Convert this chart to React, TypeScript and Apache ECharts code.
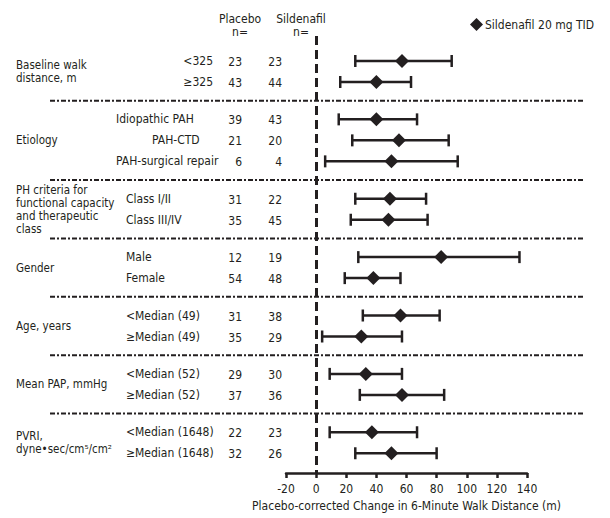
import React, { useEffect, useRef } from "react";
import * as echarts from "echarts";

const groupLabels = [
  "Baseline walk\ndistance, m",
  "Etiology",
  "PH criteria for\nfunctional capacity\nand therapeutic\nclass",
  "Gender",
  "Age, years",
  "Mean PAP, mmHg",
  "PVRI,\ndyne•sec/cm⁵/cm²",
];
const subgroups = [
  "<325", "≥325",
  "Idiopathic PAH", "PAH-CTD", "PAH-surgical repair",
  "Class I/II", "Class III/IV",
  "Male", "Female",
  "<Median (49)", "≥Median (49)",
  "<Median (52)", "≥Median (52)",
  "<Median (1648)", "≥Median (1648)",
];
const groupOf = [0, 0, 1, 1, 1, 2, 2, 3, 3, 4, 4, 5, 5, 6, 6];
const nPlacebo = [23, 43, 39, 21, 6, 31, 35, 12, 54, 31, 35, 29, 37, 22, 32];
const nSildenafil = [23, 44, 43, 20, 4, 22, 45, 19, 48, 38, 29, 30, 36, 23, 26];
const estimate = [57, 40, 40, 55, 50, 49, 48, 83, 38, 56, 30, 33, 57, 37, 50];
const lower = [26, 16, 15, 24, 6, 26, 23, 28, 19, 31, 4, 9, 29, 9, 26];
const upper = [90, 63, 67, 88, 94, 73, 74, 135, 56, 82, 57, 57, 85, 67, 80];
const xTicks = { min: -20, max: 140, interval: 20 };
const seriesName = "Sildenafil 20 mg TID";
const xTitle = "Placebo-corrected Change in 6-Minute Walk Distance (m)";

// layout (not data)
const GROUP_GAP = 0.78;
const labelLayout: { align: "left" | "right"; x: number }[] = [
  { align: "right", x: 213 }, { align: "right", x: 213 },
  { align: "left", x: 116 }, { align: "left", x: 152 }, { align: "left", x: 116 },
  { align: "left", x: 126 }, { align: "left", x: 126 },
  { align: "left", x: 126 }, { align: "left", x: 126 },
  { align: "left", x: 126 }, { align: "left", x: 126 },
  { align: "left", x: 126 }, { align: "left", x: 126 },
  { align: "left", x: 126 }, { align: "left", x: 126 },
];

const INK = "#231f20";
const FONT = '"Liberation Sans Narrow", "DejaVu Sans Condensed", "Roboto Condensed", sans-serif';

export default function App() {
  const ref = useRef<HTMLDivElement>(null);
  useEffect(() => {
    if (!ref.current) return;
    const chart = echarts.init(ref.current, undefined, { renderer: "svg" });
    const rowPos = subgroups.map((_, i) => i + groupOf[i] * GROUP_GAP);
    const lastPos = rowPos[rowPos.length - 1];

    chart.setOption({
      animation: false,
      grid: { left: 286, right: 83, top: 36, bottom: 45 },
      legend: {
        data: [seriesName],
        left: 465,
        top: 13,
        itemWidth: 13,
        itemHeight: 13,
        itemGap: 4,
        textStyle: { color: INK, fontSize: 12, fontFamily: FONT, padding: [0, 0, 0, -3] },
      },
      xAxis: {
        type: "value",
        min: xTicks.min,
        max: xTicks.max,
        interval: xTicks.interval,
        name: xTitle,
        nameLocation: "middle",
        nameGap: 27,
        nameTextStyle: { color: INK, fontSize: 12, fontFamily: FONT },
        axisLine: { show: true, onZero: false, lineStyle: { color: INK, width: 2.5 } },
        axisTick: { show: true, length: 5, lineStyle: { color: INK, width: 2.5 } },
        axisLabel: { color: INK, fontSize: 12, fontFamily: FONT, margin: 10 },
        splitLine: { show: false },
      },
      yAxis: {
        type: "value",
        inverse: true,
        min: -1.19,
        max: lastPos + 0.94,
        show: false,
        splitLine: { show: false },
      },
      series: [
        {
          type: "custom",
          name: "ci",
          encode: { x: [0, 1], y: 2 },
          data: subgroups.map((_, i) => [lower[i], upper[i], rowPos[i]]),
          renderItem: (params: any, api: any) => {
            const lo = api.coord([api.value(0), api.value(2)]);
            const hi = api.coord([api.value(1), api.value(2)]);
            const h = 6;
            const st = { stroke: INK, lineWidth: 2.5 };
            return {
              type: "group",
              children: [
                { type: "line", shape: { x1: lo[0], y1: lo[1], x2: hi[0], y2: hi[1] }, style: st },
                { type: "line", shape: { x1: lo[0], y1: lo[1] - h, x2: lo[0], y2: lo[1] + h }, style: st },
                { type: "line", shape: { x1: hi[0], y1: hi[1] - h, x2: hi[0], y2: hi[1] + h }, style: st },
              ],
            };
          },
          z: 2,
        },
        {
          type: "scatter",
          name: seriesName,
          symbol: "diamond",
          symbolSize: 14,
          itemStyle: { color: INK, opacity: 1 },
          data: subgroups.map((_, i) => [estimate[i], rowPos[i]]),
          z: 3,
          markLine: {
            silent: true,
            symbol: "none",
            label: { show: false },
            lineStyle: { color: INK, width: 3, type: [9, 5] },
            data: [{ xAxis: 0 }],
          },
        },
      ],
    });

    const py = (v: number) => chart.convertToPixel({ yAxisIndex: 0 }, v) as number;
    const txt = (text: string, x: number, y: number, align: string, extra: any = {}) => ({
      type: "text",
      x,
      y,
      silent: true,
      style: {
        text,
        fill: INK,
        fontSize: 12,
        fontFamily: FONT,
        align,
        verticalAlign: "middle",
        ...extra,
      },
    });

    const elements: any[] = [];
    // headers
    elements.push(txt("Placebo", 240, 19, "center"));
    elements.push(txt("n=", 240, 32, "center"));
    elements.push(txt("Sildenafil", 301, 19, "center"));
    elements.push(txt("n=", 301, 32, "center"));

    // rows
    subgroups.forEach((s, i) => {
      const y = py(rowPos[i]);
      elements.push(txt(s, labelLayout[i].x, y, labelLayout[i].align));
      elements.push(txt(String(nPlacebo[i]), 242, y + 1, "right"));
      elements.push(txt(String(nSildenafil[i]), 282, y + 1, "right"));
    });

    // group labels and separators
    groupLabels.forEach((g, gi) => {
      const idx = groupOf.map((v, i) => (v === gi ? i : -1)).filter((i) => i >= 0);
      const mid = (rowPos[idx[0]] + rowPos[idx[idx.length - 1]]) / 2;
      elements.push(txt(g, 16, py(mid), "left", { fontSize: 11.5, lineHeight: 13 }));
      if (gi > 0) {
        const sepY = py(rowPos[idx[0]] - (1 + GROUP_GAP) / 2);
        elements.push({
          type: "line",
          silent: true,
          shape: { x1: 50, y1: sepY, x2: 583, y2: sepY },
          style: { stroke: INK, lineWidth: 2, lineDash: [5, 2, 2, 2] },
        });
      }
    });

    chart.setOption({ graphic: { elements } });
    return () => chart.dispose();
  }, []);
  return (
    <div
      ref={ref}
      style={{ position: "fixed", left: 0, top: 0, width: 610, height: 518, background: "#fff" }}
    />
  );
}
